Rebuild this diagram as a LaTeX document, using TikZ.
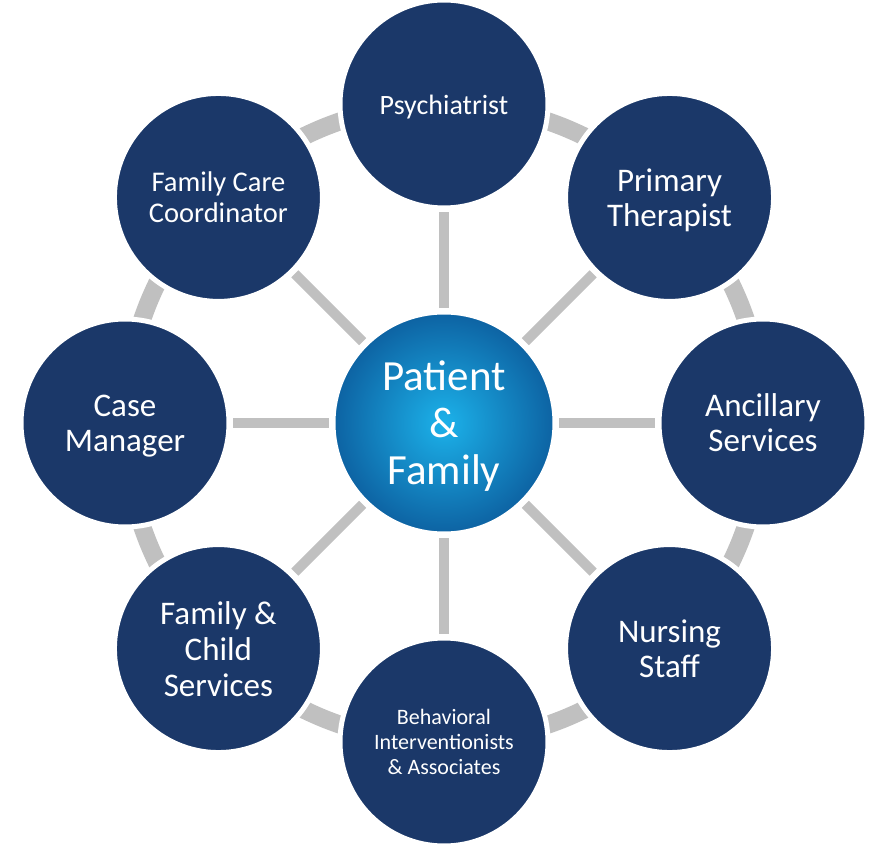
\documentclass[tikz,border=0pt]{standalone}
\usepackage{fontspec}
\setmainfont{Carlito}
\usetikzlibrary{backgrounds}
\definecolor{navy}{RGB}{27,56,105}
\definecolor{linkgray}{RGB}{192,192,192}
\definecolor{hubin}{RGB}{28,178,234}
\definecolor{hubout}{RGB}{13,98,162}

\begin{document}
\begin{tikzpicture}[x=1pt,y=1pt,
  member/.style={circle,fill=navy,draw=white,line width=5pt,minimum size=208pt,
    inner sep=0pt,outer sep=4pt,text=white,align=center,font=\fontsize{33}{35}\selectfont,
    text depth=-5pt},
  hub/.style={circle,draw=white,line width=5pt,minimum size=222pt,inner sep=0pt,
    outer sep=4pt,inner color=hubin,outer color=hubout,text=white,align=center,
    font=\fontsize{43}{47}\selectfont,text depth=0pt},
  spoke/.style={draw=linkgray,line width=10pt},
  ring/.style={draw=linkgray,line width=18pt}]
\useasboundingbox (-444,-431) rectangle (445,423);
% ---- centre ----
\node[hub] (hub) at (0,0) {Patient\\\&\\Family};
% ---- care team round it ----
\node[member,font=\fontsize{28}{32}\selectfont,text height=28pt,text depth=6pt] (psy) at (90:319) {Psychiatrist};
\node[member,text depth=-1pt] (ther) at (45:319) {Primary\\Therapist};
\node[member,text depth=-6pt] (anc) at (0:319) {Ancillary\\Services};
\node[member,text depth=-4pt] (nurse) at (-45:319) {Nursing\\Staff};
\node[member,font=\fontsize{22}{25}\selectfont] (beh) at (-90:319) {Behavioral\\Interventionists\\\& Associates};
\node[member,font=\fontsize{33}{36}\selectfont,text depth=-7pt] (fam) at (-135:319) {Family \&\\Child\\Services};
\node[member,text depth=-3pt] (case) at (180:319) {Case\\Manager};
\node[member,font=\fontsize{28.5}{31}\selectfont] (coord) at (135:319) {Family Care\\Coordinator};
% ---- links ----
\begin{pgfonlayer}{background}
  \draw[ring] (hub.center) circle (319);
  \foreach \n in {psy,ther,anc,nurse,beh,fam,case,coord}
    \draw[spoke] (hub) -- (\n);
\end{pgfonlayer}
\end{tikzpicture}
\end{document}
